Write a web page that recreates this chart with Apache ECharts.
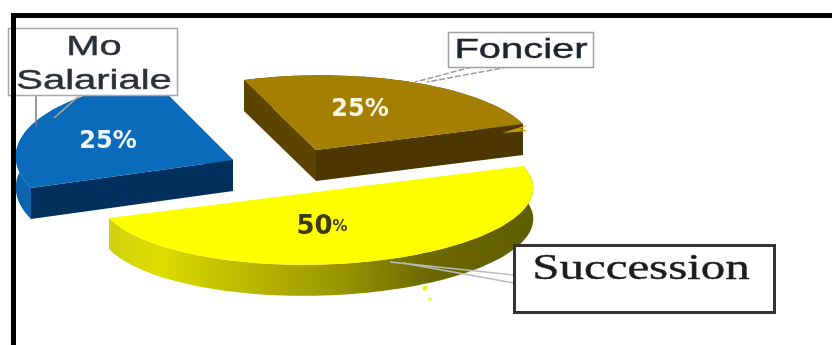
<!DOCTYPE html>
<html>
<head>
<meta charset="utf-8">
<style>html,body{margin:0;padding:0;background:#fff}#chart{width:832px;height:345px}</style>
<script src="https://cdn.jsdelivr.net/npm/echarts@6/dist/echarts.min.js"></script>
</head>
<body>
<div id="chart"></div>
<script>
// Shares of each category, in percent
const categories = ['Mo Salariale', 'Foncier', 'Succession'];
const shares = [25, 25, 50];

// Wall height of the tilted disc and the angle where the first slice begins
const DEPTH = 31;
const START_ANGLE = 180;

// Exploded centre, conjugate radii and colours per slice
const sliceStyles = [
  { centre: [233, 160], radiusA: [202, -28], radiusB: [80, 80],
    top: '#0a6bba', wall: '#0b64ac', faces: ['#02305c', '#02305c'],
    labelAt: [-125, -18], labelColor: '#f2f6fa', size: 24, pctSize: 24 },
  { centre: [316, 150], radiusA: [207, -26], radiusB: [72, 70],
    top: '#a57f02', wall: '#4d3800', faces: ['#5c4300', '#4c3700'],
    labelAt: [44, -40], labelColor: '#fbf6e6', size: 24, pctSize: 24 },
  { centre: [316, 192], radiusA: [207, -26], radiusB: [66, 68],
    top: '#ffff00',
    wall: { type: 'linear', x: 0, y: 0, x2: 1, y2: 0, colorStops: [
      { offset: 0, color: '#d0d010' }, { offset: 0.12, color: '#dcdc00' },
      { offset: 0.3, color: '#bdbd00' }, { offset: 0.55, color: '#989400' },
      { offset: 0.75, color: '#6c6900' }, { offset: 1, color: '#5f5d00' }] },
    faces: null,
    labelAt: [6, 35], labelColor: '#3c3a10', size: 26, pctSize: 15 }
];

function ellipsePoint(s, deg) {
  const t = deg * Math.PI / 180;
  return [
    s.centre[0] + Math.cos(t) * s.radiusA[0] + Math.sin(t) * s.radiusB[0],
    s.centre[1] + Math.cos(t) * s.radiusA[1] + Math.sin(t) * s.radiusB[1]
  ];
}

function renderSlice(params, api) {
  const i = params.dataIndex;
  const s = sliceStyles[i];
  const value = api.value(0);
  const before = shares.slice(0, i).reduce((a, b) => a + b, 0);
  const from = START_ANGLE + before * 3.6;
  const to = from + value * 3.6;
  const arc = [];
  for (let d = from; d <= to + 1e-6; d += 2) arc.push(ellipsePoint(s, d));
  const lower = arc.map(p => [p[0], p[1] + DEPTH]).reverse();
  const first = arc[0], last = arc[arc.length - 1], c = s.centre;
  const apexLow = [c[0], c[1] + DEPTH];
  const poly = (points, fill) => ({ type: 'polygon', shape: { points }, style: { fill } });
  const children = [poly(arc.concat(lower), s.wall)];
  if (s.faces) {
    children.push(poly([c, last, [last[0], last[1] + DEPTH], apexLow], s.faces[1]));
    children.push(poly([c, first, [first[0], first[1] + DEPTH], apexLow], s.faces[0]));
  }
  children.push(poly([c].concat(arc), s.top));
  children.push({
    type: 'text',
    x: c[0] + s.labelAt[0],
    y: c[1] + s.labelAt[1],
    style: {
      text: '{n|' + value + '}{p|%}',
      align: 'center',
      verticalAlign: 'middle',
      rich: {
        n: { font: 'bold ' + s.size + 'px "DejaVu Sans"', fill: s.labelColor },
        p: { font: 'bold ' + s.pctSize + 'px "DejaVu Sans"', fill: s.labelColor }
      }
    }
  });
  return { type: 'group', children };
}

const stretched = (text, x, y, font, fill, sx) => ({
  type: 'text', x, y, scaleX: sx, z: 12,
  style: { text, font, fill, stroke: fill, lineWidth: 0.4, align: 'center', verticalAlign: 'middle' }
});
const box = (x, y, width, height, stroke, lineWidth) => ({
  type: 'rect', z: 11, shape: { x, y, width, height },
  style: { fill: '#fff', stroke, lineWidth }
});
const leader = (pts, stroke, dash) => ({
  type: 'polyline', z: 9, shape: { points: pts },
  style: { fill: null, stroke, lineWidth: 1.5, lineDash: dash || null }
});
const sans = '27px "Liberation Sans"';

const chart = echarts.init(document.getElementById('chart'), null, { renderer: 'canvas' });
chart.setOption({
  animation: false,
  backgroundColor: '#fff',
  series: [{
    type: 'custom',
    coordinateSystem: 'none',
    renderItem: renderSlice,
    data: shares.map((v, i) => ({ name: categories[i], value: [v] }))
  }],
  graphic: [
    // Callout leaders
    leader([[36, 95], [36, 127]], '#777'),
    leader([[80, 95], [54, 118]], '#c8a88c'),
    leader([[472, 67], [415, 82]], '#9a9a9a', [6, 2]),
    leader([[508, 67], [427, 82]], '#9a9a9a', [6, 2]),
    leader([[390, 262], [514, 275]], '#bcbcbc'),
    leader([[403, 263], [514, 283]], '#bcbcbc'),
    // Callout boxes
    box(8.5, 28.5, 169, 67, '#a8a8a8', 1.5),
    box(448.5, 32.5, 145, 35, '#a0a0a0', 1.5),
    box(514.5, 245.5, 260, 67, '#333', 3),
    stretched(categories[0].split(' ')[0], 94, 48, sans, '#2b2f38', 1.48),
    stretched(categories[0].split(' ')[1], 94, 82, sans, '#2b2f38', 1.48),
    stretched(categories[1], 521, 51, sans, '#20242e', 1.48),
    stretched(categories[2], 641, 270, '36px "Liberation Serif"', '#1c1c1c', 1.36),
    // Bright sliver at the tip of the Foncier wedge, and stray specks under the disc
    { type: 'polygon', z: 8, shape: { points: [[502, 133], [527, 125], [521, 129], [528, 131]] }, style: { fill: '#c09a00' } },
    { type: 'circle', z: 8, shape: { cx: 425, cy: 288, r: 2.5 }, style: { fill: '#f4f000' } },
    { type: 'circle', z: 8, shape: { cx: 430, cy: 299, r: 2 }, style: { fill: '#f6f260' } },
    // Black frame along the top and left
    { type: 'rect', z: 20, shape: { x: 11, y: 13, width: 821, height: 5 }, style: { fill: '#000' } },
    { type: 'rect', z: 20, shape: { x: 11, y: 13, width: 5, height: 332 }, style: { fill: '#000' } }
  ]
});
</script>
</body>
</html>
